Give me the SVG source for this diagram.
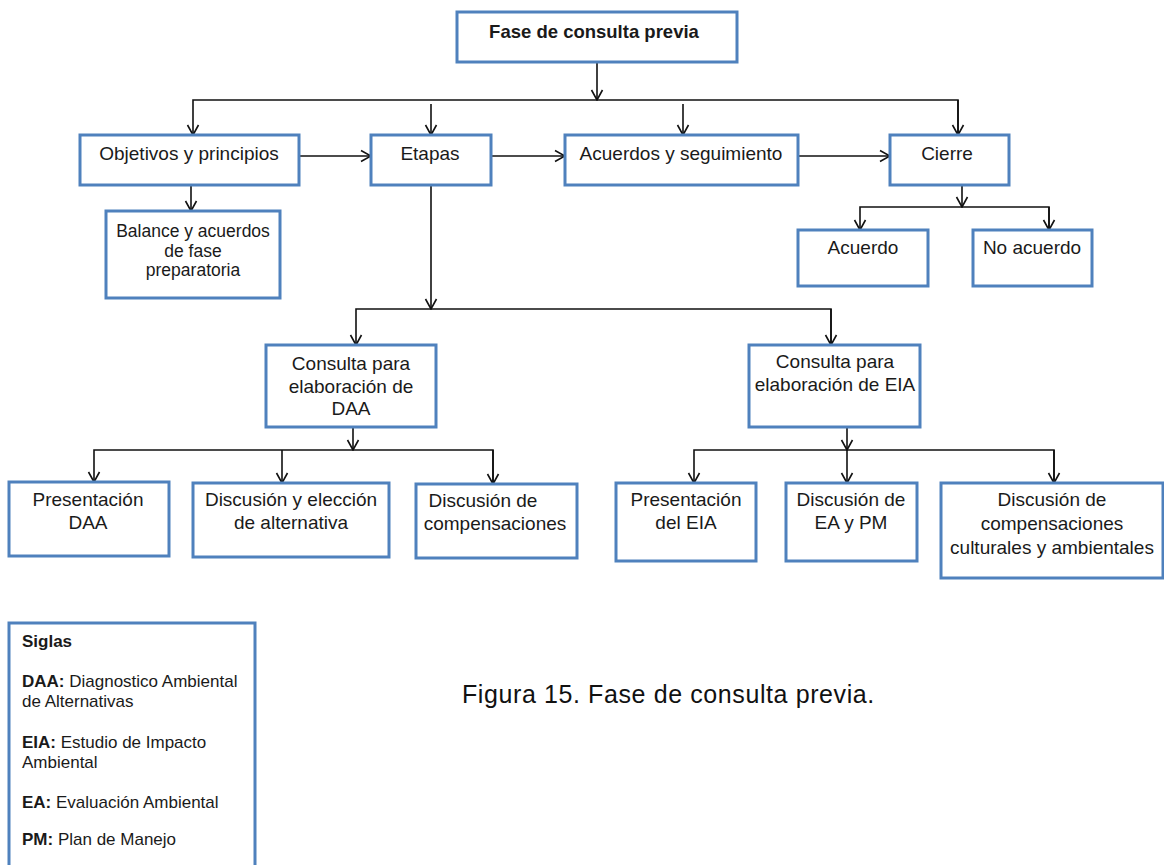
<svg xmlns="http://www.w3.org/2000/svg" width="1164" height="865" viewBox="0 0 1164 865">
  <style>
    .box { fill: #ffffff; stroke: #4f81bd; stroke-width: 3; }
    .lbl { font-family: "Liberation Sans", Arial, sans-serif; font-size: 19px; fill: #1a1a1a; text-anchor: middle; }
    .bold { font-weight: bold; }
    .sig { font-family: "Liberation Sans", Arial, sans-serif; font-size: 17px; fill: #1a1a1a; }
    .cap { font-family: "Liberation Sans", Arial, sans-serif; font-size: 25px; letter-spacing: 0.6px; fill: #111111; }
    .wire { fill: none; stroke: #111111; stroke-width: 1.6; }
  </style>
  <defs>
    <marker id="arrow" markerUnits="userSpaceOnUse" markerWidth="12" markerHeight="14" refX="11" refY="7" orient="auto">
      <path d="M1,1.5 L11,7 L1,12.5" fill="none" stroke="#111111" stroke-width="1.6"/>
    </marker>
  </defs>
  <rect width="1164" height="865" fill="#ffffff"/>

  <!-- connectors -->
  <g id="connectors">
    <path class="wire" d="M597,62 V100" marker-end="url(#arrow)"/>
    <path class="wire" d="M958,135 V100 H193 V135" marker-end="url(#arrow)"/>
    <path class="wire" d="M958,100 V135" marker-end="url(#arrow)"/>
    <path class="wire" d="M431,104 V135" marker-end="url(#arrow)"/>
    <path class="wire" d="M683,104 V135" marker-end="url(#arrow)"/>
    <path class="wire" d="M299,156 H371" marker-end="url(#arrow)"/>
    <path class="wire" d="M491,156 H565" marker-end="url(#arrow)"/>
    <path class="wire" d="M798,156 H890" marker-end="url(#arrow)"/>
    <path class="wire" d="M191,185 V211" marker-end="url(#arrow)"/>
    <path class="wire" d="M962,185 V207" marker-end="url(#arrow)"/>
    <path class="wire" d="M1049,230 V207 H860 V230" marker-end="url(#arrow)"/>
    <path class="wire" d="M1049,207 V230" marker-end="url(#arrow)"/>
    <path class="wire" d="M431,185 V309" marker-end="url(#arrow)"/>
    <path class="wire" d="M831,345 V309 H356 V345" marker-end="url(#arrow)"/>
    <path class="wire" d="M831,309 V345" marker-end="url(#arrow)"/>
    <path class="wire" d="M353,427 V450" marker-end="url(#arrow)"/>
    <path class="wire" d="M493,483 V450 H94 V482" marker-end="url(#arrow)"/>
    <path class="wire" d="M493,450 V484" marker-end="url(#arrow)"/>
    <path class="wire" d="M282,450 V483" marker-end="url(#arrow)"/>
    <path class="wire" d="M847,427 V450" marker-end="url(#arrow)"/>
    <path class="wire" d="M1054,480 V450 H694 V483" marker-end="url(#arrow)"/>
    <path class="wire" d="M1054,450 V483" marker-end="url(#arrow)"/>
    <path class="wire" d="M847,450 V483" marker-end="url(#arrow)"/>
  </g>

  <g id="fase">
    <rect class="box" x="457" y="12" width="280" height="50"/>
    <text class="lbl bold" x="594" y="38" style="font-size:18.5px">Fase de consulta previa</text>
  </g>
  <g id="objetivos">
    <rect class="box" x="80" y="135" width="219" height="50"/>
    <text class="lbl" x="189" y="160">Objetivos y principios</text>
  </g>
  <g id="etapas">
    <rect class="box" x="371" y="135" width="120" height="50"/>
    <text class="lbl" x="430" y="160">Etapas</text>
  </g>
  <g id="acuerdos">
    <rect class="box" x="565" y="135" width="233" height="50"/>
    <text class="lbl" x="681" y="160">Acuerdos y seguimiento</text>
  </g>
  <g id="cierre">
    <rect class="box" x="890" y="135" width="119" height="50"/>
    <text class="lbl" x="947" y="160">Cierre</text>
  </g>
  <g id="balance">
    <rect class="box" x="106" y="211" width="174" height="87"/>
    <text class="lbl" x="193" y="237" style="font-size:17.5px">Balance y acuerdos</text>
    <text class="lbl" x="193" y="257" style="font-size:17.5px">de fase</text>
    <text class="lbl" x="193" y="276" style="font-size:17.5px">preparatoria</text>
  </g>
  <g id="acuerdo">
    <rect class="box" x="798" y="230" width="130" height="56"/>
    <text class="lbl" x="863" y="254">Acuerdo</text>
  </g>
  <g id="no-acuerdo">
    <rect class="box" x="973" y="230" width="119" height="56"/>
    <text class="lbl" x="1032" y="254">No acuerdo</text>
  </g>
  <g id="consulta-daa">
    <rect class="box" x="266" y="345" width="170" height="82"/>
    <text class="lbl" x="351" y="370">Consulta  para</text>
    <text class="lbl" x="351" y="393">elaboración de</text>
    <text class="lbl" x="351" y="415">DAA</text>
  </g>
  <g id="consulta-eia">
    <rect class="box" x="749" y="345" width="171" height="82"/>
    <text class="lbl" x="835" y="368">Consulta  para</text>
    <text class="lbl" x="835" y="391">elaboración de EIA</text>
  </g>
  <g id="presentacion-daa">
    <rect class="box" x="9" y="482" width="160" height="74"/>
    <text class="lbl" x="88" y="506">Presentación</text>
    <text class="lbl" x="88" y="529">DAA</text>
  </g>
  <g id="discusion-eleccion">
    <rect class="box" x="193" y="483" width="196" height="74"/>
    <text class="lbl" x="291" y="506">Discusión y elección</text>
    <text class="lbl" x="291" y="529">de alternativa</text>
  </g>
  <g id="discusion-compensaciones">
    <rect class="box" x="416" y="484" width="161" height="74"/>
    <text class="lbl" x="483" y="507">Discusión de</text>
    <text class="lbl" x="495" y="530">compensaciones</text>
  </g>
  <g id="presentacion-eia">
    <rect class="box" x="616" y="483" width="140" height="78"/>
    <text class="lbl" x="686" y="506">Presentación</text>
    <text class="lbl" x="686" y="529">del EIA</text>
  </g>
  <g id="discusion-ea-pm">
    <rect class="box" x="786" y="483" width="131" height="78"/>
    <text class="lbl" x="851" y="506">Discusión de</text>
    <text class="lbl" x="851" y="529">EA y PM</text>
  </g>
  <g id="discusion-culturales">
    <rect class="box" x="941" y="483" width="222" height="95"/>
    <text class="lbl" x="1052" y="506">Discusión de</text>
    <text class="lbl" x="1052" y="530">compensaciones</text>
    <text class="lbl" x="1052" y="554">culturales y ambientales</text>
  </g>

  <g id="siglas">
    <rect class="box" x="9" y="623" width="246" height="250"/>
    <text class="sig bold" x="22" y="647">Siglas</text>
    <text class="sig" x="22" y="687"><tspan font-weight="bold">DAA:</tspan> Diagnostico Ambiental</text>
    <text class="sig" x="22" y="707">de Alternativas</text>
    <text class="sig" x="22" y="748"><tspan font-weight="bold">EIA:</tspan> Estudio de Impacto</text>
    <text class="sig" x="22" y="768">Ambiental</text>
    <text class="sig" x="22" y="808"><tspan font-weight="bold">EA:</tspan> Evaluación Ambiental</text>
    <text class="sig" x="22" y="845"><tspan font-weight="bold">PM:</tspan> Plan de Manejo</text>
  </g>

  <text id="caption" class="cap" x="462" y="703">Figura 15. Fase de consulta previa.</text>
</svg>
